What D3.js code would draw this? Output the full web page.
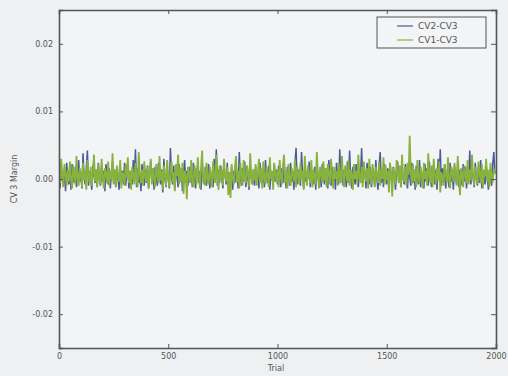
<!DOCTYPE html>
<html>
<head>
<meta charset="utf-8">
<script src="https://cdn.jsdelivr.net/npm/d3@7"></script>
<style>
  html, body { margin: 0; padding: 0; background: #eef0f2; }
  svg { display: block; }
  text { font-family: "DejaVu Sans", sans-serif; }
</style>
</head>
<body>
<svg id="chart" width="508" height="376"></svg>
<script>
// Margin samples, every 5th trial, in units of 1e-4
const trialStep = 5;
const cv2cv3 = [
  6, -14, 20, 0, -10, 16, -18, 24, 4, -8, 12, -16, 22, 2, -6, 18, -12, 8, 28, -4,
  10, -14, 38, 2, -8, 16, 42, -10, 12, 0, -16, 20, 6, -6, 14, -12, 24, 2, -10, 18,
  -4, 12, -18, 22, 4, -8, 16, -14, 10, 26, -6, 14, -12, 8, 2, -16, 20, -4, 12, -8,
  24, -10, 6, 18, -14, 12, 0, -8, 28, 4, 44, -12, 16, -6, 10, -18, 22, 2, -10, 14,
  -6, 20, -14, 8, 26, -4, 12, -16, 18, 2, -10, 24, 6, -8, 14, -20, 30, 0, -12, 16,
  4, -14, 46, 2, -8, 20, -16, 10, 6, -12, 22, -4, 14, -18, 8, 28, -6, 12, -10, 18,
  -2, 16, -12, 24, 4, -14, 10, 20, -6, 12, -16, 26, 2, -8, 18, -10, 6, 22, -14, 10,
  0, -12, 30, 4, 44, -10, 14, -6, 20, 2, -14, 16, 8, -8, 24, -12, 10, -4, 18, -16,
  12, -6, 22, 2, -14, 40, 6, -10, 16, -4, 26, -12, 8, 0, -16, 20, 4, -8, 14, -10,
  18, -2, 10, -14, 24, 6, -8, 16, -12, 28, 2, -6, 20, -16, 12, 4, -10, 22, -4, 14,
  -8, 20, 4, -12, 16, -6, 26, 0, -14, 18, 8, -10, 24, -4, 12, -16, 22, 46, -8, 14,
  2, -10, 40, 6, -14, 20, -4, 12, 0, 26, -12, 10, 4, -8, 18, -16, 24, 2, -6, 14,
  -12, 22, 6, -8, 16, 2, -14, 28, 4, -10, 18, -4, 12, -16, 24, 6, -8, 44, 0, 20,
  -10, 14, 4, -12, 26, -6, 42, 2, -14, 18, 8, -8, 22, 0, -12, 16, 4, 46, -6, 20,
  10, -14, 24, 2, -8, 18, -12, 12, 6, -10, 28, 0, -16, 20, 40, -6, 14, -12, 22, 4,
  -8, 16, -14, 24, 2, -10, 18, 6, -16, 12, 26, -4, 14, -12, 20, 0, -8, 22, 6, -14,
  16, 4, -10, 24, -6, 12, -16, 20, 2, -8, 28, -12, 10, 6, -14, 22, -4, 16, -10, 26,
  0, -12, 18, 6, -8, 14, -16, 30, 2, 44, -10, 16, -6, 22, -14, 8, 4, -12, 24, -4,
  12, -16, 20, 2, -8, 26, -12, 14, 6, -10, 22, -4, 18, -14, 10, 0, 42, -8, 16, 4,
  -12, 24, 2, -10, 18, -6, 28, -14, 12, 0, -8, 20, 6, -16, 14, 2, -10, 22, 40, 8
];
const cv1cv3 = [
  18, -6, 30, 4, -12, 22, 8, -10, 14, -4, 26, 0, -14, 20, 6, -8, 34, 2, -10, 16,
  8, -12, 24, -2, 12, -16, 28, 6, -6, 18, -10, 10, 36, -4, 14, -12, 22, 2, -8, 30,
  4, -14, 16, 8, -6, 26, -10, 12, 0, 38, -8, 14, -12, 20, 4, -4, 28, -14, 10, 6,
  -10, 22, 2, 32, -6, 12, -16, 18, 6, -8, 24, 0, -12, 40, 8, -6, 14, -10, 26, 4,
  -4, 18, -14, 10, 30, -8, 16, 2, -12, 22, 8, -6, 34, -2, 12, -16, 20, 6, -10, 28,
  2, -12, 14, 26, -6, 10, -18, 22, 4, 36, -8, 16, -4, 24, -22, 12, 6, -30, 18, 8,
  -6, 28, 0, -12, 20, 10, -8, 32, 4, -14, 16, 42, -6, 12, -10, 24, 2, -8, 18, 6,
  -12, 26, 4, -6, 36, 8, -16, 20, 0, 14, -10, 30, 6, -4, 18, -24, 10, -28, 22, 2,
  -8, 16, 34, -4, 12, -14, 24, 6, -10, 28, 0, -6, 20, 10, -12, 38, 4, -8, 14, -2,
  22, -10, 8, 30, -6, 16, -14, 26, 2, -8, 18, 6, -12, 32, 0, 12, -16, 24, 8, -4,
  14, -12, 28, 4, -8, 20, 36, -6, 10, -14, 22, 2, -10, 16, 8, -4, 30, -12, 18, 6,
  -8, 24, 0, 12, -16, 34, 6, -10, 20, 4, -6, 28, -12, 14, 2, -8, 40, 6, -14, 18,
  10, -6, 26, -2, 16, -12, 22, 8, -8, 30, 4, -14, 18, 0, 12, -10, 24, 6, -6, 34,
  2, -12, 20, 8, -4, 28, -10, 14, 6, -16, 22, 0, 12, -8, 36, 4, -6, 18, -12, 26,
  8, -4, 16, -14, 30, 2, -8, 22, 10, -12, 18, 6, -6, 26, -10, 14, 0, 32, -8, 20,
  -2, 12, -20, 24, 8, -26, 16, 4, -8, 28, 12, -6, 20, -12, 36, 2, -4, 18, -10, 24,
  6, 64, 10, -8, 22, -4, 14, -12, 28, 2, -6, 18, 8, -14, 24, 0, 12, -10, 38, 4,
  -6, 20, -12, 30, 6, -8, 16, -2, 26, -20, 10, 4, -10, 22, 8, -6, 32, 0, -14, 18,
  12, -4, 24, 6, -10, 34, 2, -24, 16, 8, -12, 20, 4, -6, 28, -8, 14, -2, 36, 6,
  -10, 18, 2, -8, 26, 10, -6, 22, -14, 14, 4, 30, -4, 12, -12, 24, 2, -6, 16, 8
];
const seriesNames = ["CV2-CV3", "CV1-CV3"];
const seriesColors = ["#4a5a9c", "#88b23e"];
const seriesWidths = [1.5, 1.8];
const xTicks = [0, 500, 1000, 1500, 2000];
const yTicks = [-0.02, -0.01, 0.00, 0.01, 0.02];
const xTitle = "Trial";
const yTitle = "CV 3 Margin";

const svg = d3.select("#chart");
const margin = { left: 59, right: 12, top: 10, bottom: 28 };
const W = 508, H = 376;
const x = d3.scaleLinear().domain([0, 2000]).range([margin.left, W - margin.right]);
const y = d3.scaleLinear().domain([-0.025, 0.025]).range([H - margin.bottom, margin.top]);

// plot background
svg.append("rect")
  .attr("x", x(0)).attr("y", y(0.025))
  .attr("width", x(2000) - x(0)).attr("height", y(-0.025) - y(0.025))
  .attr("fill", "#f3f4f6");

// series lines, clipped to the plot frame
svg.append("clipPath").attr("id", "plot-clip").append("rect")
  .attr("x", x(0)).attr("y", y(0.025))
  .attr("width", x(2000) - x(0)).attr("height", y(-0.025) - y(0.025));
const toPoints = arr => arr.map((v, i) => [i * trialStep, v / 10000]);
const line = d3.line().x(d => x(d[0])).y(d => y(d[1]));
[cv2cv3, cv1cv3].forEach((arr, k) => {
  svg.append("path")
    .datum(toPoints(arr))
    .attr("clip-path", "url(#plot-clip)")
    .attr("fill", "none")
    .attr("stroke", seriesColors[k])
    .attr("stroke-width", seriesWidths[k])
    .attr("d", line);
});

// axes with inward ticks on all four sides
const axisColor = "#555";
const fmtY = d => d.toFixed(2);
const axLeft = svg.append("g").attr("transform", `translate(${x(0)},0)`)
  .call(d3.axisLeft(y).tickValues(yTicks).tickSize(-4).tickPadding(6).tickFormat(fmtY));
const axRight = svg.append("g").attr("transform", `translate(${x(2000)},0)`)
  .call(d3.axisRight(y).tickValues(yTicks).tickSize(-5).tickFormat(""));
const axBottom = svg.append("g").attr("transform", `translate(0,${y(-0.025)})`)
  .call(d3.axisBottom(x).tickValues(xTicks).tickSize(-4).tickPadding(5).tickFormat(d3.format("d")));
const axTop = svg.append("g").attr("transform", `translate(0,${y(0.025)})`)
  .call(d3.axisTop(x).tickValues(xTicks).tickSize(-4).tickFormat(""));
[axLeft, axRight, axBottom, axTop].forEach(g => {
  g.select(".domain").attr("stroke", axisColor).attr("stroke-width", 1.6);
  g.selectAll(".tick line").attr("stroke", axisColor).attr("stroke-width", 1);
  g.selectAll(".tick text").attr("fill", "#555").attr("font-size", 8)
    .attr("font-family", "DejaVu Sans, sans-serif");
});

// axis titles
svg.append("text")
  .attr("x", 276).attr("y", 371)
  .attr("text-anchor", "middle").attr("font-size", 8).attr("fill", "#555")
  .text(xTitle);
svg.append("text")
  .attr("transform", `translate(17,${(y(0.025) + y(-0.025)) / 2}) rotate(-90)`)
  .attr("text-anchor", "middle").attr("font-size", 8).attr("fill", "#555")
  .text(yTitle);

// legend
const lg = svg.append("g").attr("transform", "translate(377,17)");
lg.append("rect").attr("width", 109).attr("height", 31)
  .attr("fill", "#f3f4f6").attr("stroke", "#555").attr("stroke-width", 1);
seriesNames.forEach((name, k) => {
  const cy = 9 + k * 14;
  lg.append("line").attr("x1", 20).attr("x2", 36).attr("y1", cy).attr("y2", cy)
    .attr("stroke", seriesColors[k]).attr("stroke-width", 1.2);
  lg.append("text").attr("x", 41).attr("y", cy + 3)
    .attr("font-size", 9).attr("fill", "#555").text(name);
});
</script>
</body>
</html>
